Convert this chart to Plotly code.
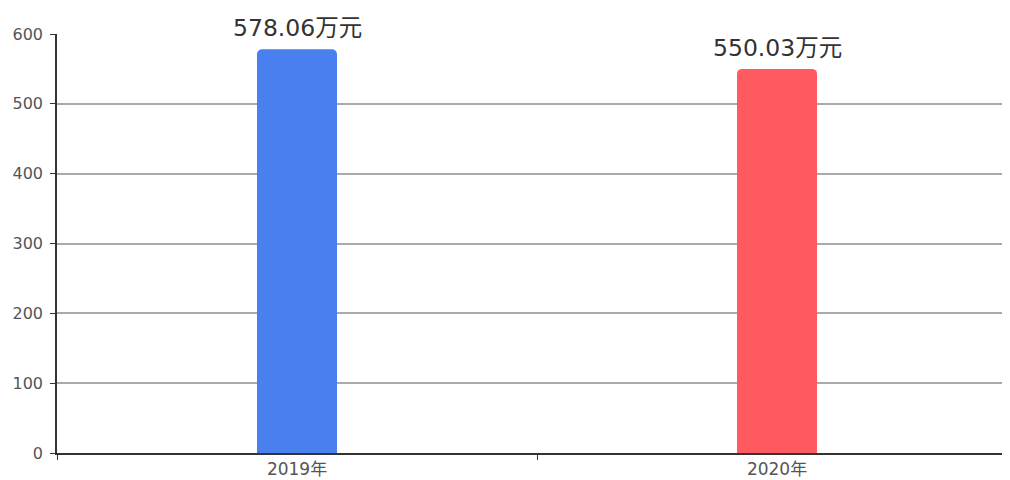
import plotly.graph_objects as go

categories = ["2019年", "2020年"]
values = [578.06, 550.03]
colors = ["#4A7FF0", "#FF5A5F"]
unit = "万元"
y_ticks = [0, 100, 200, 300, 400, 500, 600]

FONT = "DejaVu Sans, Noto Sans CJK SC, sans-serif"

fig = go.Figure()
fig.add_trace(go.Bar(
    x=categories, y=values, width=0.1667,
    marker=dict(color=colors, line=dict(width=0)),
    hoverinfo="skip",
))
for c, v in zip(categories, values):
    fig.add_annotation(x=c, y=v, text=f"{v:.2f}{unit}", showarrow=False,
                       yanchor="bottom", yshift=5,
                       font=dict(family=FONT, size=23.5, color="#333333"))

fig.update_layout(
    width=1002, height=472,
    margin=dict(l=49, r=0, t=26, b=27),
    paper_bgcolor="white", plot_bgcolor="white",
    showlegend=False, barcornerradius=5,
    font=dict(family=FONT),
)
fig.update_xaxes(
    type="category", range=[-0.5, 1.4854],
    tickson="boundaries", ticks="outside", ticklen=5, tickcolor="#333333",
    showline=True, linecolor="#333333", linewidth=1.5,
    showgrid=False, tickfont=dict(size=17, color="#555555"),
)
fig.update_yaxes(
    range=[0, 600], tickvals=y_ticks, ticks="outside", ticklen=5, tickcolor="#333333",
    showline=True, linecolor="#333333", linewidth=1.5,
    showgrid=True, gridcolor="#AAAAAA", gridwidth=1.5, zeroline=False,
    tickfont=dict(size=16, color="#555555"), ticklabelstandoff=4,
)
fig.write_html("out.html")
